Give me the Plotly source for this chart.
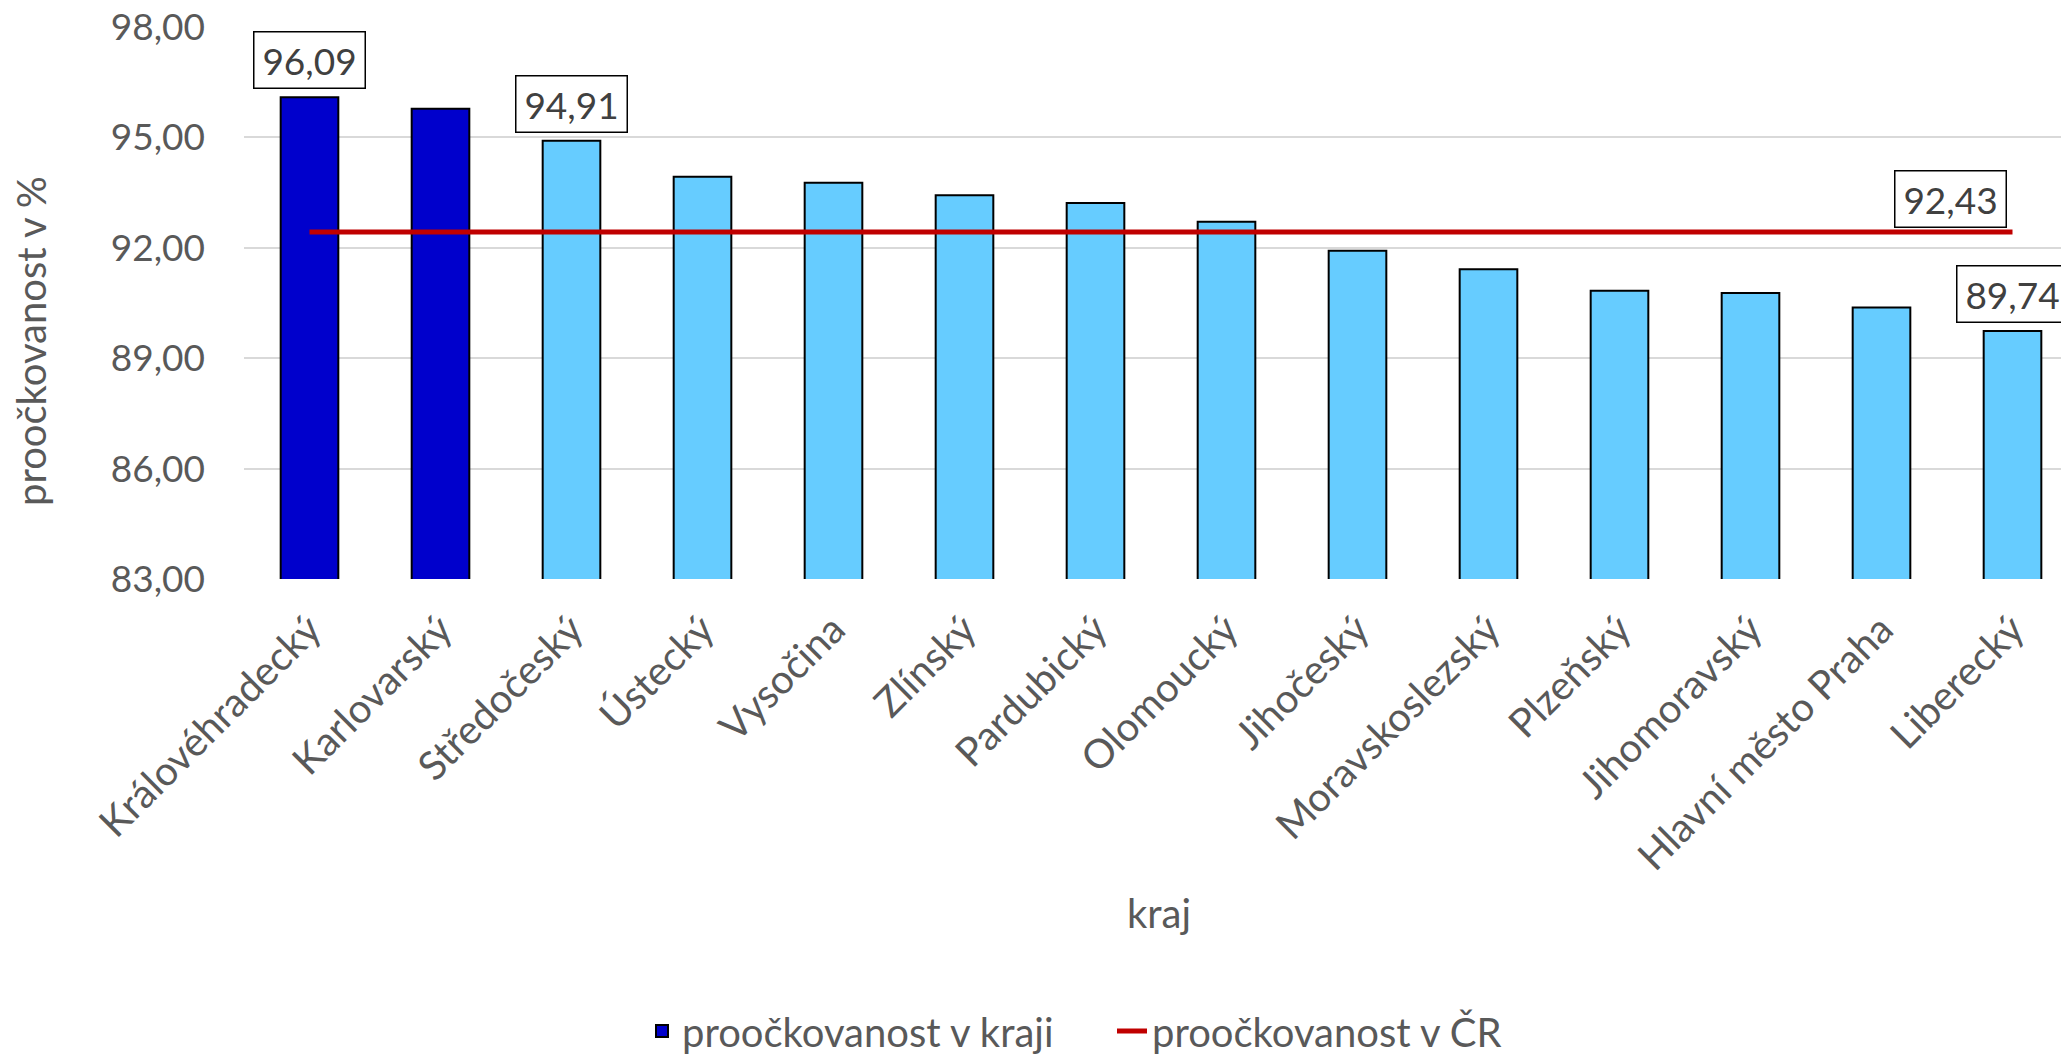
import plotly.graph_objects as go

categories = ["Královéhradecký", "Karlovarský", "Středočeský", "Ústecký", "Vysočina",
              "Zlínský", "Pardubický", "Olomoucký", "Jihočeský", "Moravskoslezský",
              "Plzeňský", "Jihomoravský", "Hlavní město Praha", "Liberecký"]
kraj_values = [96.09, 95.78, 94.91, 93.93, 93.77, 93.43, 93.22, 92.71, 91.92, 91.42,
               90.83, 90.77, 90.38, 89.74]
highlighted = ["Královéhradecký", "Karlovarský"]
labeled = ["Královéhradecký", "Středočeský", "Liberecký"]
cr_value = 92.43
y_ticks = [83, 86, 89, 92, 95, 98]

series_names = ["proočkovanost v kraji", "proočkovanost v ČR"]

DARK = "#0000CC"
LIGHT = "#66CCFF"
RED = "#C00000"
TXT = "#595959"
FONT = "Lato"
FS_NUM = 37
FS_TXT = 40

def fmt(v):
    return f"{v:.2f}".replace(".", ",")

bar_colors = [DARK if c in highlighted else LIGHT for c in categories]

fig = go.Figure()
fig.add_trace(go.Bar(
    x=categories, y=kraj_values, name=series_names[0],
    marker=dict(color=bar_colors, line=dict(color="#000000", width=2)),
    width=0.44, hoverinfo="x+y",
))
fig.add_trace(go.Scatter(
    x=categories, y=[cr_value] * len(categories), name=series_names[1],
    mode="lines", line=dict(color=RED, width=5),
))

annotations = []
for c, v in zip(categories, kraj_values):
    if c in labeled:
        annotations.append(dict(
            x=c, y=v, xref="x", yref="y", text=fmt(v), showarrow=False,
            xanchor="center", yanchor="bottom", yshift=8,
            font=dict(family=FONT, size=FS_NUM, color="#404040"),
            bordercolor="#000000", borderwidth=1.5, borderpad=5,
            bgcolor="#FFFFFF", width=100,
        ))
annotations.append(dict(
    x=categories[-1], y=cr_value, xref="x", yref="y", text=fmt(cr_value),
    showarrow=False, xanchor="right", yanchor="bottom", xshift=-6, yshift=4,
    font=dict(family=FONT, size=FS_NUM, color="#404040"),
    bordercolor="#000000", borderwidth=1.5, borderpad=5,
    bgcolor="#FFFFFF", width=100,
))

L, T, B_PX, W, H = 244, 27, 579, 2061, 1060
PW = W - L
PH = B_PX - T

def px_x(p):
    return (p - L) / PW

def px_y(p):
    return (B_PX - p) / PH

annotations.append(dict(
    x=px_x(31), y=px_y(341), xref="paper", yref="paper", text="proočkovanost v %",
    showarrow=False, textangle=-90, xanchor="center", yanchor="middle",
    font=dict(family=FONT, size=FS_TXT, color=TXT),
))
annotations.append(dict(
    x=px_x(1159), y=px_y(913), xref="paper", yref="paper", text="kraj",
    showarrow=False, xanchor="center", yanchor="middle",
    font=dict(family=FONT, size=FS_TXT, color=TXT),
))

fig.update_layout(
    autosize=True,
    margin=dict(l=L, r=0, t=T, b=H - B_PX, pad=0, autoexpand=False),
    paper_bgcolor="white", plot_bgcolor="white",
    separators=", ",
    font=dict(family=FONT, size=FS_TXT, color=TXT),
    showlegend=True,
    legend=dict(
        orientation="h", x=px_x(642), y=px_y(1031), xanchor="left", yanchor="middle",
        font=dict(family=FONT, size=FS_TXT, color=TXT), itemwidth=30,
        entrywidth=425, bgcolor="rgba(0,0,0,0)", tracegroupgap=0,
    ),
    annotations=annotations,
    xaxis=dict(
        range=[-0.5, -0.5 + PW / 131.0], tickangle=-45, showgrid=False,
        showline=False, zeroline=False, ticks="", ticklabelstandoff=18,
        tickfont=dict(family=FONT, size=FS_TXT, color=TXT), automargin=False,
    ),
    yaxis=dict(
        range=[83, 98], tickvals=y_ticks, tickformat=".2f", showgrid=True,
        gridcolor="#D9D9D9", gridwidth=2, zeroline=False, showline=False,
        ticks="", ticklabelstandoff=38, automargin=False,
        tickfont=dict(family=FONT, size=FS_NUM, color=TXT),
    ),
)

post = (
    "document.documentElement.style.margin='0';"
    "document.body.style.margin='0';"
    "document.documentElement.style.overflow='hidden';"
    "document.body.style.overflow='hidden';"
    "window.dispatchEvent(new Event('resize'));"
)

fig.write_html("out.html", default_width="100vw", default_height="100vh",
               config={"displayModeBar": False, "responsive": True},
               post_script=post)
